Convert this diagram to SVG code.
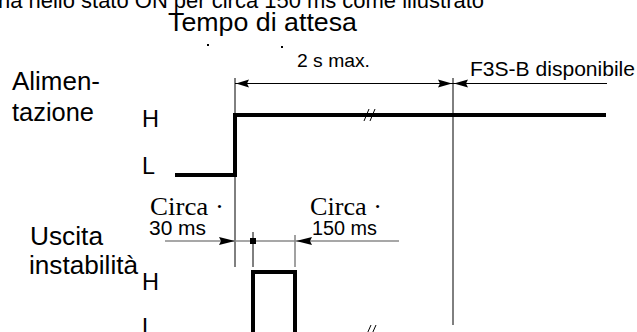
<svg xmlns="http://www.w3.org/2000/svg" width="637" height="332" viewBox="0 0 637 332">
<style>
.s{font-family:"Liberation Sans",Arial,sans-serif;fill:#000}
.r{font-family:"Liberation Serif","Times New Roman",serif;fill:#000}
.thin{stroke:#000;stroke-width:1;fill:none}
.gray{stroke:#8a8a8a;stroke-width:1.6;fill:none}
.sig{stroke:#000;stroke-width:4;fill:none;stroke-linejoin:miter}
.ah{fill:#000}
</style>
<rect width="637" height="332" fill="#fff"/>
<g id="header">
<text class="s" x="-2" y="8" font-size="22" textLength="486" lengthAdjust="spacingAndGlyphs">na nello stato ON per circa 150 ms come illustrato</text>
<text class="s" x="168" y="31" font-size="26" textLength="189" lengthAdjust="spacingAndGlyphs">Tempo di attesa</text>
<rect x="207" y="44" width="2" height="2" fill="#000"/>
<rect x="281" y="46" width="2" height="2" fill="#000"/>
</g>
<g id="power">
<text class="s" x="12" y="90" font-size="26" textLength="88" lengthAdjust="spacingAndGlyphs">Alimen-</text>
<text class="s" x="12" y="121" font-size="26" textLength="82" lengthAdjust="spacingAndGlyphs">tazione</text>
<text class="s" x="142" y="127" font-size="24" textLength="17" lengthAdjust="spacingAndGlyphs">H</text>
<text class="s" x="142" y="174" font-size="24" textLength="13" lengthAdjust="spacingAndGlyphs">L</text>
<path class="sig" d="M175,175 H235 V115 H606"/>
</g>
<g id="output">
<text class="s" x="30" y="245" font-size="25" textLength="73" lengthAdjust="spacingAndGlyphs">Uscita</text>
<text class="s" x="29" y="274" font-size="25" textLength="109" lengthAdjust="spacingAndGlyphs">instabilità</text>
<text class="s" x="142" y="290" font-size="24" textLength="17" lengthAdjust="spacingAndGlyphs">H</text>
<text class="s" x="142" y="335" font-size="24" textLength="13" lengthAdjust="spacingAndGlyphs">L</text>
<path class="sig" d="M253,340 V272 H295 V340"/>
</g>
<g id="labels">
<text class="s" x="297" y="67" font-size="19" textLength="73" lengthAdjust="spacingAndGlyphs">2 s max.</text>
<text class="s" x="470" y="76" font-size="21" textLength="165" lengthAdjust="spacingAndGlyphs">F3S-B disponibile</text>
<text class="r" x="150" y="215" font-size="25" textLength="74" lengthAdjust="spacingAndGlyphs">Circa ·</text>
<text class="s" x="149" y="235" font-size="21" textLength="57" lengthAdjust="spacingAndGlyphs">30 ms</text>
<text class="r" x="310" y="215" font-size="25" textLength="72" lengthAdjust="spacingAndGlyphs">Circa ·</text>
<text class="s" x="312" y="235" font-size="20" textLength="65" lengthAdjust="spacingAndGlyphs">150 ms</text>
</g>
<g id="connectors">
<line class="thin" x1="235" y1="78" x2="235" y2="267"/>
<line class="thin" x1="453" y1="78" x2="453" y2="325"/>
<line class="thin" x1="235" y1="83.5" x2="607" y2="83.5"/>
<path class="ah" d="M236,83.5 L249,79.5 L247,83.5 L249,87.5 Z"/>
<path class="ah" d="M452,83.5 L438,79.5 L440,83.5 L438,87.5 Z"/>
<path class="ah" d="M454,83.5 L468,79.5 L466,83.5 L468,87.5 Z"/>
<path class="thin" d="M364,121 L369,109 M370,121 L375,109" stroke-width="1.2"/>
<line class="gray" x1="165" y1="241" x2="399" y2="241"/>
<path class="ah" d="M235,241 L219,237 L221,241 L219,245 Z"/>
<path class="ah" d="M296,241 L312,237 L310,241 L312,245 Z"/>
<rect x="250" y="238" width="6" height="6" fill="#000"/>
<line class="thin" x1="253" y1="232" x2="253" y2="267"/>
<line class="gray" x1="295" y1="235" x2="295" y2="267" stroke-width="1.2"/>
<path class="thin" d="M367,334 L371,325 M372,334 L376,325" stroke-width="1.2"/>
</g>
</svg>
